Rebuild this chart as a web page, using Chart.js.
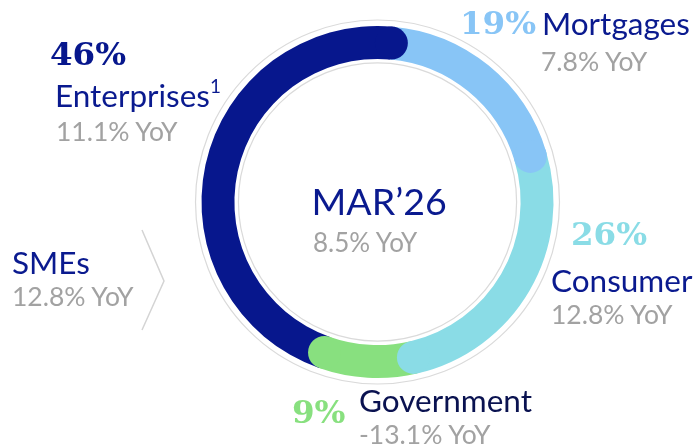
<!DOCTYPE html>
<html>
<head>
<meta charset="utf-8">
<script src="https://cdn.jsdelivr.net/npm/chart.js@4.4.1/dist/chart.umd.min.js"></script>
<style>
  html, body { margin: 0; padding: 0; background: #fff; }
  #wrap { position: relative; width: 698px; height: 446px; overflow: hidden; }
  #chart { position: absolute; left: 0; top: 0; }
  .lbl { position: absolute; white-space: nowrap; line-height: 1; font-family: Lato, sans-serif; }
  .pct { font-family: "DejaVu Serif", serif; font-weight: bold; }
  .name { color: #0a1a8f; }
  .yoy { color: #a2a2a2; }
  sup { font-size: 0.6em; vertical-align: 0; position: relative; top: -0.75em; }
  svg { position: absolute; left: 0; top: 0; }
</style>
</head>
<body>
<div id="wrap">
  <canvas id="chart" width="698" height="446"></canvas>
  <svg width="698" height="446"><polyline points="142,230 164,281 142,330" fill="none" stroke="#d4d4d4" stroke-width="1.5"/></svg>
</div>
<script>
// Dados do gráfico (sentido horário a partir do topo)
var categorias = ["Mortgages", "Consumer", "Government", "Enterprises"];
var participacao = [19, 26, 9, 46];
var yoy = ["7.8% YoY", "12.8% YoY", "-13.1% YoY", "11.1% YoY"];
var cores = ["#88c5f6", "#8adce6", "#88e07f", "#07178d"];
var corPct = ["#88c5f6", "#8adce6", "#88e07f", "#07178d"];
var centroTitulo = "MAR\u201926";
var centroYoy = "8.5% YoY";
var smeNome = "SMEs";
var smeYoy = "12.8% YoY";

// Contorno cinza fino atrás do anel
var contorno = {
    id: 'contorno',
    beforeDatasetsDraw: function(chart) {
        var arc = chart.getDatasetMeta(0).data[0];
        var ctx = chart.ctx;
        ctx.save();
        ctx.strokeStyle = '#dadada';
        ctx.lineWidth = 1.2;
        ctx.beginPath();
        ctx.arc(arc.x, arc.y, arc.outerRadius + 6, 0, Math.PI * 2);
        ctx.stroke();
        ctx.beginPath();
        ctx.arc(arc.x, arc.y, arc.innerRadius - 4, 0, Math.PI * 2);
        ctx.stroke();
        ctx.restore();
    }
};

// Pontas arredondadas no fim de cada fatia
var pontas = {
    id: 'pontas',
    afterDatasetsDraw: function(chart) {
        var ctx = chart.ctx;
        var arcos = chart.getDatasetMeta(0).data;
        ctx.save();
        for (let i = 0; i < arcos.length; i++) {
            let a = arcos[i];
            let r = (a.outerRadius + a.innerRadius) / 2;
            let meia = (a.outerRadius - a.innerRadius) / 2;
            ctx.fillStyle = a.options.backgroundColor;
            ctx.beginPath();
            ctx.arc(a.x + r * Math.cos(a.endAngle), a.y + r * Math.sin(a.endAngle), meia, 0, Math.PI * 2);
            ctx.fill();
        }
        ctx.restore();
    }
};

new Chart("chart", {
    type: "doughnut",
    data: {
        labels: categorias,
        datasets: [{
            data: participacao,
            backgroundColor: cores,
            borderWidth: 0
        }]
    },
    options: {
        responsive: false,
        animation: false,
        rotation: 5,
        cutout: "81.3%",
        layout: { padding: { left: 201, right: 144, top: 26, bottom: 68 } },
        plugins: { legend: { display: false }, tooltip: { enabled: false } }
    },
    plugins: [contorno, pontas]
});

// Textos em HTML, posicionados pela linha de base
var wrap = document.getElementById('wrap');
function texto(conteudo, classe, x, base, tam, cor, html) {
    var d = document.createElement('div');
    d.className = 'lbl ' + classe;
    var asc = classe.indexOf('pct') >= 0 ? 0.846 : 0.887;
    d.style.left = x + 'px';
    d.style.top = (base - asc * tam) + 'px';
    d.style.fontSize = tam + 'px';
    if (cor) d.style.color = cor;
    if (html) d.innerHTML = conteudo; else d.textContent = conteudo;
    wrap.appendChild(d);
    return d;
}

var tNome = 31.5, tYoy = 26.5, tPct = 32.5;

// Mortgages
texto(participacao[0] + '%', 'pct', 460, 34, tPct, corPct[0]);
texto(categorias[0], 'name', 542, 36, tNome);
texto(yoy[0], 'yoy', 541, 72, tYoy);
// Consumer
texto(participacao[1] + '%', 'pct', 571, 245, tPct, corPct[1]);
texto(categorias[1], 'name', 551, 293, tNome);
texto(yoy[1], 'yoy', 551, 325, tYoy);
// Government
texto(participacao[2] + '%', 'pct', 292, 423, tPct, corPct[2]);
texto(categorias[2], 'name', 359, 413, tNome, '#0a1250');
texto(yoy[2], 'yoy', 359, 445, tYoy);
// Enterprises
texto(participacao[3] + '%', 'pct', 50, 65, tPct, corPct[3]);
texto(categorias[3] + '<sup>1</sup>', 'name', 55, 108, tNome, null, true);
texto(yoy[3], 'yoy', 56, 142, tYoy);
// SMEs
texto(smeNome, 'name', 12, 275, tNome);
texto(smeYoy, 'yoy', 12, 307, tYoy);
// Centro
var t = texto(centroTitulo, 'name', 0, 215, 37.5);
t.style.left = (379 - t.offsetWidth / 2) + 'px';
texto(centroYoy, 'yoy', 313, 252, 26);
</script>
</body>
</html>
